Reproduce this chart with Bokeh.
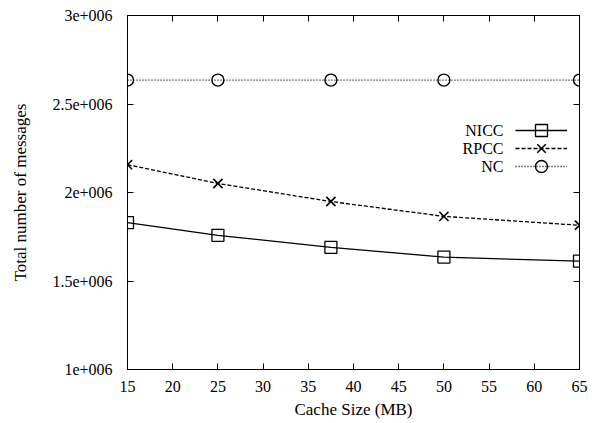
from bokeh.plotting import figure
from bokeh.models import Range1d, LinearAxis, FixedTicker, Legend, LegendItem, Label
from bokeh.embed import file_html
from bokeh.resources import INLINE

cache_size = [15, 25, 37.5, 50, 65]
nicc = [1.830e6, 1.758e6, 1.690e6, 1.635e6, 1.612e6]
rpcc = [2.157e6, 2.051e6, 1.949e6, 1.865e6, 1.815e6]
nc = [2.635e6, 2.635e6, 2.635e6, 2.635e6, 2.635e6]
series_names = ["NICC", "RPCC", "NC"]
x_ticks = [15, 20, 25, 30, 35, 40, 45, 50, 55, 60, 65]
y_ticks = [1e6, 1.5e6, 2e6, 2.5e6, 3e6]
y_tick_labels = ["1e+006", "1.5e+006", "2e+006", "2.5e+006", "3e+006"]

FONT = "Liberation Serif"

p = figure(width=599, height=423, output_backend="svg", toolbar_location=None,
           x_range=Range1d(15, 65), y_range=Range1d(1e6, 3e6),
           min_border_left=127, min_border_right=20, min_border_top=15, min_border_bottom=54)
p.xgrid.visible = False
p.ygrid.visible = False
p.outline_line_color = "black"
p.outline_line_width = 1
p.background_fill_color = "white"
p.border_fill_color = "white"

def style_axis(ax, ticks, show_labels=True):
    ax.ticker = FixedTicker(ticks=ticks)
    ax.major_tick_in = 6
    ax.major_tick_out = 0
    ax.minor_tick_in = 0
    ax.minor_tick_out = 0
    ax.axis_line_color = "black"
    ax.major_tick_line_color = "black"
    ax.major_label_text_font = FONT
    ax.major_label_text_color = "black"
    ax.axis_label_text_font = FONT
    ax.axis_label_text_font_style = "normal"
    ax.axis_label_text_font_size = "17px"
    ax.axis_label_text_color = "black"
    if show_labels:
        ax.major_label_text_font_size = "16px"
    else:
        ax.major_label_text_font_size = "1px"
        ax.major_label_text_color = None
        ax.major_label_standoff = 0

xa = p.xaxis[0]
style_axis(xa, x_ticks)
xa.axis_label = "Cache Size (MB)"
xa.major_label_standoff = 11
xa.axis_label_standoff = 5

ya = p.yaxis[0]
style_axis(ya, y_ticks)
ya.axis_label = "Total number of messages"
ya.major_label_overrides = {t: s for t, s in zip(y_ticks, y_tick_labels)}
ya.major_label_standoff = 15
ya.axis_label_standoff = 19

ra = LinearAxis()
style_axis(ra, y_ticks, show_labels=False)
p.add_layout(ra, "right")
ta = LinearAxis()
style_axis(ta, x_ticks, show_labels=False)
p.add_layout(ta, "above")

r1 = p.line(cache_size, nicc, line_color="black", line_width=1.3)
m1 = p.scatter(cache_size, nicc, marker="square", size=12, fill_color=None, line_color="black", line_width=1.3)
r2 = p.line(cache_size, rpcc, line_color="black", line_width=1.3, line_dash="4 2")
m2 = p.scatter(cache_size, rpcc, marker="x", size=13, line_color="black", line_width=1.6)
r3 = p.line(cache_size, nc, line_color="black", line_width=1.3, line_dash="1 2")
m3 = p.scatter(cache_size, nc, marker="circle", size=12, fill_color=None, line_color="black", line_width=1.4)

for i, (name, rends) in enumerate(zip(series_names, [[r1, m1], [r2, m2], [r3, m3]])):
    lg = Legend(items=[LegendItem(label=" ", renderers=rends)],
                location=(388, 224 - 18 * i), glyph_width=52, glyph_height=30, label_height=18,
                label_width=0, label_standoff=0, spacing=0, padding=0, margin=0,
                border_line_color=None, background_fill_alpha=0,
                label_text_font_size="1px")
    p.add_layout(lg, "center")
    p.add_layout(Label(x=376, y=239 - 18 * i, x_units="screen", y_units="screen", text=name,
                       text_align="right", text_baseline="middle", text_font=FONT,
                       text_font_size="16px", text_color="black"))

open("out.html", "w").write(file_html(p, INLINE))
